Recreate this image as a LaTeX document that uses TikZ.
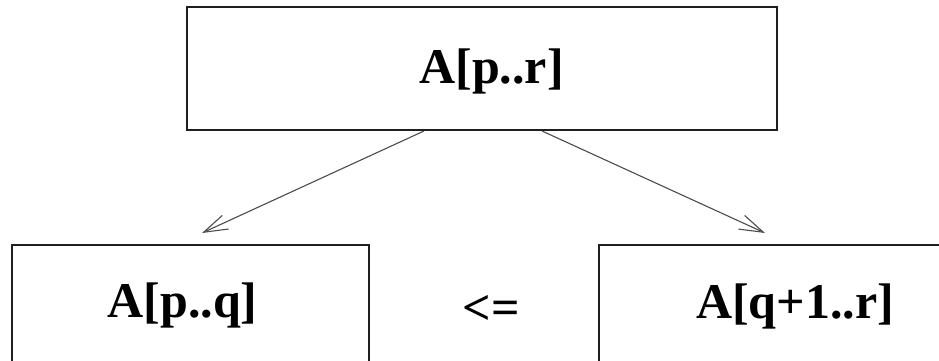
\documentclass[tikz,border=0pt]{standalone}
\usepackage{fontspec}
\setmainfont{Liberation Serif}
\usetikzlibrary{arrows.meta}
\begin{document}
\begin{tikzpicture}[x=1pt,y=-1pt,
  box/.style={draw=black!88, line width=1.8pt, minimum width=#1, inner sep=0pt},
  lbl/.style={font=\fontsize{50}{60}\selectfont\bfseries, inner sep=0pt, anchor=base},
  link/.style={draw=black!70, line width=1.1pt,
    -{Straight Barb[length=24pt, width=15pt, line width=1.1pt]}}]
  \useasboundingbox (0,0) rectangle (939,361);
  \clip (0,0) rectangle (939,361);
  % whole array
  \node[box=590pt, minimum height=123pt] (top) at (482,68.5) {};
  \node[lbl] (toptext) at (491.5,83) {A[p..r]};
  % the two halves (running past the lower and right edges)
  \node[box=357pt, minimum height=170pt] (left) at (190.5,330) {};
  \node[lbl] (lefttext) at (182.5,317) {A[p..q]};
  \node[box=400pt, minimum height=170pt] (right) at (799,330) {};
  \node[lbl] (righttext) at (795,318) {A[q+1..r]};
  \node[lbl] (cmp) at (491,324) {<=};
  % split arrows
  \coordinate (ls) at (424,131);
  \coordinate (rs) at (542,131);
  \coordinate (lt) at (202,233);
  \coordinate (rt) at (765,233);
  \draw[link] (ls) -- (lt);
  \draw[link] (rs) -- (rt);
\end{tikzpicture}
\end{document}
